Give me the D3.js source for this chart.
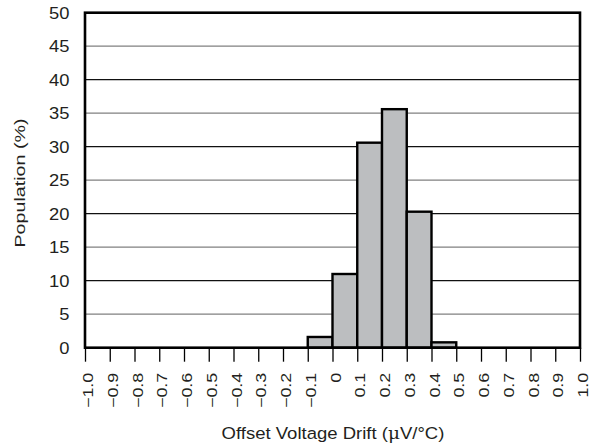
<!DOCTYPE html>
<html><head><meta charset="utf-8">
<script src="https://cdn.jsdelivr.net/npm/d3@7"></script>
<style>body{margin:0;background:#fff}svg{display:block}text{font-family:"Liberation Sans",Arial,Helvetica,sans-serif;fill:#231f20}</style>
</head><body><svg id="c" width="592" height="446"></svg>
<script>
const binStarts = [-0.1, 0.0, 0.1, 0.2, 0.3, 0.4];
const population = [1.6, 11.0, 30.6, 35.6, 20.3, 0.8];
const xTicks = [-1.0,-0.9,-0.8,-0.7,-0.6,-0.5,-0.4,-0.3,-0.2,-0.1,0,0.1,0.2,0.3,0.4,0.5,0.6,0.7,0.8,0.9,1.0];
const yTicks = [0,5,10,15,20,25,30,35,40,45,50];
const binWidth = 0.1;

const svg = d3.select("#c");
const L=85, R=580, T=12.7, B=347.7;
const x = d3.scaleLinear().domain([-1,1]).range([L,R]);
const y = d3.scaleLinear().domain([0,50]).range([B,T]);
const fmt = v => v===0 ? "0" : (v<0 ? "\u2212" : "") + Math.abs(v).toFixed(1);

// grid
svg.append("g").selectAll("line").data(yTicks.filter(v=>v>0&&v<50)).join("line")
  .attr("x1",L).attr("x2",R).attr("y1",d=>y(d)).attr("y2",d=>y(d))
  .attr("stroke",d=>d%10===0?"#111":"#808080").attr("stroke-width",1.3);

// bars
svg.append("g").selectAll("rect").data(binStarts).join("rect")
  .attr("x",(d)=>x(d)).attr("width",d=>x(d+binWidth)-x(d))
  .attr("y",(d,i)=>y(population[i])).attr("height",(d,i)=>B-y(population[i]))
  .attr("fill","#bcbec0").attr("stroke","#000").attr("stroke-width",2.4);

// frame
svg.append("rect").attr("x",L).attr("y",T).attr("width",R-L).attr("height",B-T)
  .attr("fill","none").attr("stroke","#000").attr("stroke-width",2.6);

// y axis
const sy = 1.1;
const ya = svg.append("g").attr("transform",`translate(${L},0)`)
  .call(d3.axisLeft(y).tickValues(yTicks).tickSize(0).tickFormat(d3.format("d")));
ya.select(".domain").remove();
ya.selectAll("text").attr("font-size",16.7).attr("font-family",null).attr("fill","#231f20")
  .attr("text-anchor","end").attr("x",-15.5/sy).attr("transform",`scale(${sy},1)`);

// x axis
const sx = 1.28;
const xa = svg.append("g").attr("transform",`translate(0,${B})`)
  .call(d3.axisBottom(x).tickValues(xTicks).tickSize(14).tickFormat(fmt));
xa.select(".domain").remove();
xa.selectAll(".tick line").attr("stroke","#000").attr("stroke-width",1.3);
xa.selectAll("text").attr("font-size",14).attr("font-family",null).attr("fill","#231f20")
  .attr("transform",`rotate(-90) scale(${sx},1)`).attr("text-anchor","end")
  .attr("dy",null).attr("x",-25/sx).attr("y",7.5);

// titles
svg.append("text").attr("transform","translate(333,439) scale(1.09,1)").attr("text-anchor","middle").attr("font-size",17)
  .html('Offset Voltage Drift (<tspan font-family="DejaVu Serif">\u03bc</tspan>V/°C)');
svg.append("text").attr("transform",`translate(25,183) rotate(-90) scale(${sx},1)`).attr("text-anchor","middle")
  .attr("font-size",15.4).text("Population (%)");
</script></body></html>
